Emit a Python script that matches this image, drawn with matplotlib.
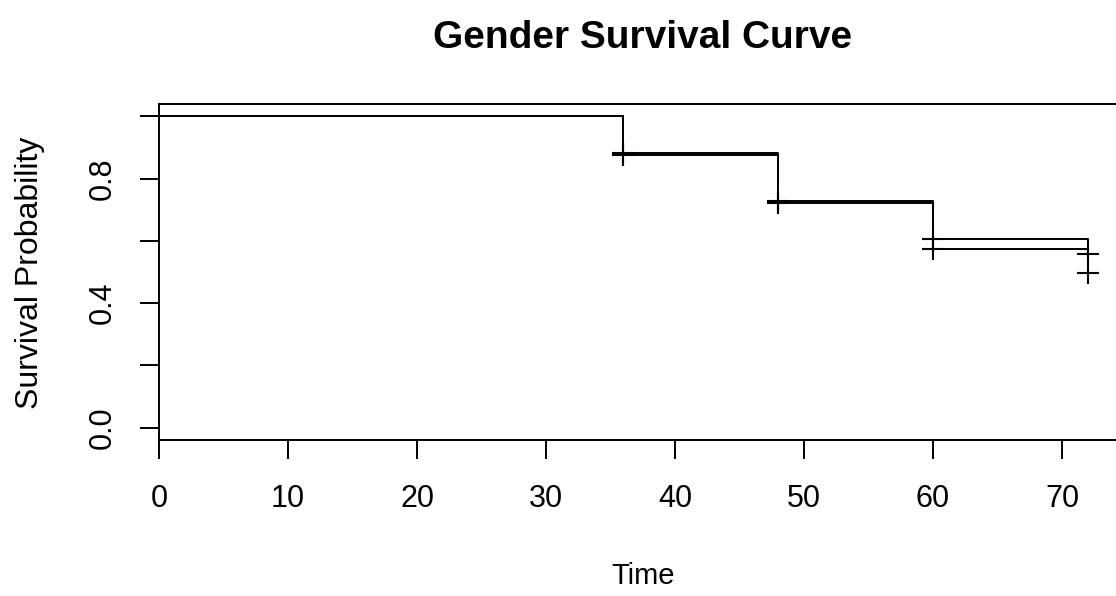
import matplotlib
matplotlib.use("Agg")
import matplotlib.pyplot as plt

plt.rcParams['font.family'] = ['Liberation Sans', 'DejaVu Sans']

# Kaplan-Meier steps
step_times = [0, 36, 48, 60, 72]
surv_a = [1.0, 0.884, 0.729, 0.607, 0.559]
surv_b = [1.0, 0.876, 0.721, 0.575, 0.498]

# censored observations (time, survival at that time)
cens_times = [36, 48, 60, 72]
cens_a = [0.884, 0.729, 0.607, 0.559]
cens_b = [0.876, 0.721, 0.575, 0.498]

yticks = [0.0, 0.2, 0.4, 0.6, 0.8, 1.0]
ylabels = ["0.0", "", "0.4", "", "0.8", ""]
xticks = [0, 10, 20, 30, 40, 50, 60, 70]

fig = plt.figure(figsize=(11.16, 5.96), dpi=100)
ax = fig.add_axes([159/1116, 156/596, 957/1116, 336/596])

for s, cs in [(surv_a, cens_a), (surv_b, cens_b)]:
    ax.plot(step_times, s, drawstyle='steps-post', color='black', lw=1.4)
    ax.plot(cens_times, cs, ls='none', marker='+', ms=16, mew=1.5, color='black')

ax.set_xlim(0, 957/12.9)
ax.set_ylim(-0.04, 1.04)

ax.set_xticks(xticks)
ax.set_xticklabels([str(t) for t in xticks])
ax.set_yticks(yticks)
ax.set_yticklabels(ylabels, rotation=90, va='center')

ax.tick_params(axis='both', direction='out', length=14, width=1.4,
               labelsize=22, colors='black')
ax.tick_params(axis='x', pad=18)
ax.tick_params(axis='y', pad=16)

for side in ['left', 'top', 'bottom']:
    ax.spines[side].set_linewidth(1.4)
ax.spines['right'].set_visible(False)

fig.text(643/1116, 1 - 576/596, "Time", ha='center', va='center', fontsize=21)
fig.text(30/1116, 1 - 273/596, "Survival Probability", ha='center', va='center',
         rotation=90, fontsize=23)
fig.text(643/1116, 1 - 38/596, "Gender Survival Curve", ha='center', va='center',
         fontsize=28, fontweight='bold')

fig.savefig("out.png", dpi=100)
